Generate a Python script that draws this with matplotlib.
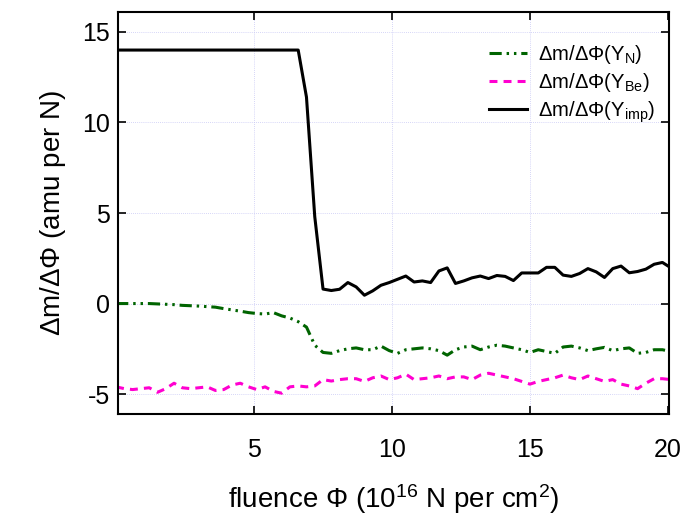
import numpy as np
import matplotlib
matplotlib.use('Agg')
import matplotlib.pyplot as plt

# Siatka fluencji (krok 0.3 x 10^16 N/cm^2)
fluence = np.round(np.arange(68) * 0.3, 1)

# dm/dPhi dla poszczególnych składników
dm_YN = [0.0, 0.0, 0.0, 0.0, 0.0, -0.02, -0.04, -0.06, -0.1, -0.12,
         -0.14, -0.17, -0.2, -0.28, -0.35, -0.42, -0.5, -0.55, -0.58, -0.5,
         -0.68, -0.8, -1.0,
         -1.3, -2.3, -2.7, -2.75, -2.6, -2.5, -2.45, -2.55, -2.55, -2.35,
         -2.6, -2.75, -2.55, -2.5, -2.45, -2.5, -2.6, -2.85, -2.55, -2.4,
         -2.35, -2.55, -2.4, -2.3, -2.35, -2.45, -2.55, -2.7, -2.55, -2.65,
         -2.75, -2.4, -2.35, -2.45, -2.6, -2.5, -2.42, -2.6, -2.5, -2.45,
         -2.75, -2.7, -2.55, -2.55, -2.65]

dm_YBe = [-4.6, -4.7, -4.75, -4.7, -4.65, -4.9, -4.7, -4.4, -4.65, -4.7,
          -4.65, -4.6, -4.8, -4.75, -4.5, -4.4, -4.6, -4.75, -4.6, -4.85,
          -4.95, -4.6, -4.55,
          -4.6, -4.55, -4.2, -4.28, -4.2, -4.15, -4.15, -4.3, -4.1, -4.0,
          -4.2, -4.1, -3.9, -4.2, -4.15, -4.1, -4.0, -4.15, -4.05, -4.05,
          -4.2, -3.95, -3.85, -3.95, -4.05, -4.15, -4.3, -4.45, -4.3, -4.2,
          -4.1, -3.95, -4.1, -4.2, -4.0, -4.15, -4.3, -4.2, -4.45, -4.55,
          -4.7, -4.4, -4.15, -4.15, -4.2]

dm_Yimp = [14.0] * 23 + [
    11.4, 4.8, 0.8, 0.72, 0.79, 1.16, 0.92, 0.46, 0.70, 1.01,
    1.16, 1.34, 1.52, 1.19, 1.25, 1.16, 1.8, 1.97, 1.11, 1.25,
    1.42, 1.52, 1.38, 1.55, 1.5, 1.27, 1.69, 1.69, 1.69, 2.0,
    2.0, 1.57, 1.5, 1.66, 1.93, 1.75, 1.44, 1.93, 2.07, 1.7,
    1.77, 1.9, 2.17, 2.27, 1.98]

plt.rcParams['font.family'] = ['Liberation Sans', 'DejaVu Sans']
plt.rcParams['mathtext.fontset'] = 'custom'
plt.rcParams['mathtext.rm'] = 'Liberation Sans'
plt.rcParams['mathtext.it'] = 'Liberation Sans'

fig = plt.figure(figsize=(6.85, 5.23), dpi=100)
ax = fig.add_axes([0.1727, 0.2084, 0.8044, 0.7686])

ax.plot(fluence, dm_YN, color='#006400', lw=2.2,
        linestyle=(0, (4, 1.6, 0.8, 1.6, 0.8, 1.6)),
        label=r'$\Delta$m/$\Delta\Phi$(Y$_{\rm N}$)')
ax.plot(fluence, dm_YBe, color='#ff00d0', lw=2.2,
        linestyle=(0, (2.6, 2.0)),
        label=r'$\Delta$m/$\Delta\Phi$(Y$_{\rm Be}$)')
ax.plot(fluence, dm_Yimp, color='black', lw=2.2,
        label=r'$\Delta$m/$\Delta\Phi$(Y$_{\rm imp}$)')

ax.set_xlim(0.08, 20.05)
ax.set_ylim(-6.1, 16.1)
ax.set_xticks([5, 10, 15, 20])
ax.set_yticks([-5, 0, 5, 10, 15])
ax.set_yticklabels(['-5', '0', '5', '10', '15'])

ax.grid(True, color='#c8c8f5', linestyle=(0, (1, 1.5)), linewidth=0.6)
ax.tick_params(direction='in', length=6, width=1.2, top=True, right=True,
               labelsize=18)
ax.tick_params(axis='x', pad=17)
ax.tick_params(axis='y', pad=6)
for s in ax.spines.values():
    s.set_linewidth(1.5)

ax.set_xlabel(r'fluence $\Phi$ (10$^{16}$ N per cm$^{2}$)', fontsize=20,
              labelpad=15)
ax.set_ylabel(r'$\Delta$m/$\Delta\Phi$ (amu per N)', fontsize=20, labelpad=10)

ax.legend(loc='upper right', bbox_to_anchor=(0.988, 0.943), frameon=False,
          fontsize=14.6, handlelength=1.9, handletextpad=0.5,
          labelspacing=0.25, borderaxespad=0)

fig.savefig('out.png', dpi=100)
plt.close(fig)
